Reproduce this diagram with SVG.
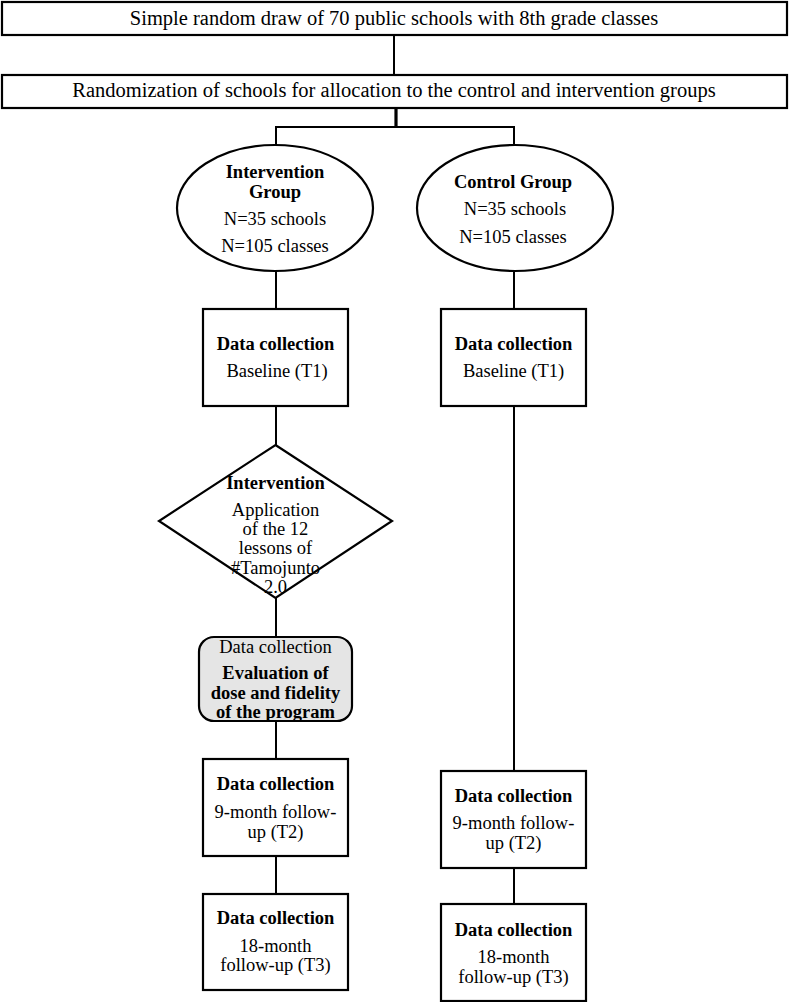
<svg xmlns="http://www.w3.org/2000/svg" width="789" height="1002" viewBox="0 0 789 1002">
<style>
.box{fill:#fff;stroke:#000;stroke-width:2.2}
.gray{fill:#e5e5e5;stroke:#000;stroke-width:2.2}
.ln{stroke:#000;stroke-width:2;fill:none}
text{font-family:"Liberation Serif","Times New Roman",serif;font-size:18.5px;fill:#000;text-anchor:middle}
.b{font-weight:bold}
.big{font-size:20.5px}
</style>
<rect width="789" height="1002" fill="#fff"/>
<g id="connectors">
<line class="ln" x1="394" y1="35" x2="394" y2="75"/>
<line class="ln" x1="396" y1="108" x2="396" y2="127" style="stroke-width:3.2"/>
<line class="ln" x1="275" y1="127" x2="515" y2="127"/>
<line class="ln" x1="276" y1="127" x2="276" y2="145"/>
<line class="ln" x1="514" y1="127" x2="514" y2="145"/>
<line class="ln" x1="276" y1="271" x2="276" y2="309"/>
<line class="ln" x1="514" y1="271" x2="514" y2="309"/>
<line class="ln" x1="276" y1="406" x2="276" y2="445"/>
<line class="ln" x1="276" y1="598" x2="276" y2="637"/>
<line class="ln" x1="276" y1="721" x2="276" y2="759"/>
<line class="ln" x1="276" y1="856" x2="276" y2="894"/>
<line class="ln" x1="514" y1="406" x2="514" y2="771"/>
<line class="ln" x1="514" y1="868" x2="514" y2="904"/>
</g>
<g id="draw">
<rect class="box" x="2" y="2" width="785" height="33"/>
<text class="big" x="394" y="25">Simple random draw of 70 public schools with 8th grade classes</text>
</g>
<g id="randomization">
<rect class="box" x="2" y="75" width="785" height="33"/>
<text class="big" x="394" y="97">Randomization of schools for allocation to the control and intervention groups</text>
</g>
<g id="intervention-group">
<ellipse class="box" cx="275" cy="208" rx="98" ry="63"/>
<text class="b" x="275" y="178">Intervention</text>
<text class="b" x="275" y="198">Group</text>
<text x="275" y="225">N=35 schools</text>
<text x="275" y="252">N=105 classes</text>
</g>
<g id="control-group">
<ellipse class="box" cx="515" cy="208" rx="98" ry="63"/>
<text class="b" x="513" y="188">Control Group</text>
<text x="515" y="215">N=35 schools</text>
<text x="513" y="243">N=105 classes</text>
</g>
<g id="int-baseline">
<rect class="box" x="203" y="309" width="145" height="97"/>
<text class="b" x="275.5" y="350">Data collection</text>
<text x="277" y="377">Baseline (T1)</text>
</g>
<g id="ctrl-baseline">
<rect class="box" x="441" y="309" width="145" height="97"/>
<text class="b" x="513.5" y="350">Data collection</text>
<text x="513.5" y="377">Baseline (T1)</text>
</g>
<g id="intervention">
<polygon class="box" points="275.5,445 392,521 275.5,598 159,521"/>
<text class="b" x="275.5" y="489">Intervention</text>
<text x="275.5" y="516">Application</text>
<text x="275.5" y="535">of the 12</text>
<text x="275.5" y="554">lessons of</text>
<text x="275.5" y="574">#Tamojunto</text>
<text x="275.5" y="593">2.0</text>
</g>
<g id="evaluation">
<rect class="gray" x="199" y="637" width="153" height="84" rx="15"/>
<text x="275.5" y="653">Data collection</text>
<text class="b" x="275.5" y="679">Evaluation of</text>
<text class="b" x="275.5" y="699">dose and fidelity</text>
<text class="b" x="275.5" y="718">of the program</text>
</g>
<g id="int-t2">
<rect class="box" x="203" y="759" width="145" height="97"/>
<text class="b" x="275.5" y="790">Data collection</text>
<text x="275.5" y="818">9-month follow-</text>
<text x="275.5" y="838">up (T2)</text>
</g>
<g id="int-t3">
<rect class="box" x="203" y="894" width="145" height="96"/>
<text class="b" x="275.5" y="924">Data collection</text>
<text x="275.5" y="952">18-month</text>
<text x="275.5" y="971">follow-up (T3)</text>
</g>
<g id="ctrl-t2">
<rect class="box" x="441" y="771" width="145" height="97"/>
<text class="b" x="513.5" y="802">Data collection</text>
<text x="513.5" y="829">9-month follow-</text>
<text x="513.5" y="849">up (T2)</text>
</g>
<g id="ctrl-t3">
<rect class="box" x="441" y="904" width="145" height="97"/>
<text class="b" x="513.5" y="936">Data collection</text>
<text x="513.5" y="963">18-month</text>
<text x="513.5" y="983">follow-up (T3)</text>
</g>
</svg>
